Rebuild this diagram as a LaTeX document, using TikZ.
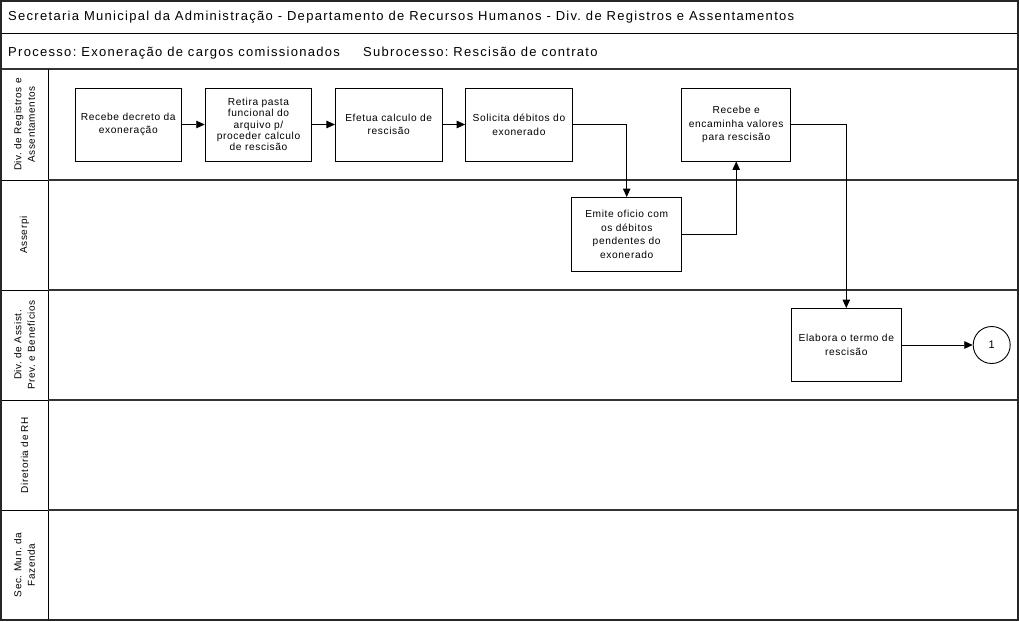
\documentclass[tikz,border=0pt]{standalone}
\usepackage{fontspec}
\setmainfont{Liberation Sans}
\newfontfamily\spacedfont[LetterSpace=6]{Liberation Sans}
\newfontfamily\headfont[LetterSpace=10]{Liberation Sans}
\usetikzlibrary{arrows.meta,shapes.geometric}
\begin{document}
\frenchspacing
\begin{tikzpicture}[x=1pt,y=-1pt,
  frame/.style={line width=1.3pt,draw=black!85},
  thin/.style={line width=0.9pt,draw=black},
  lanesep/.style={line width=1.6pt,draw=black!80},
  task/.style={draw=black,line width=0.9pt,fill=white,rectangle,
    minimum height=73pt,inner sep=1pt,align=center,
    font=\spacedfont\fontsize{10.2}{13.6}\selectfont},
  lanelabel/.style={rotate=90,align=center,inner sep=0pt,
    font=\spacedfont\fontsize{10}{13.5}\selectfont},
  head/.style={anchor=base west,inner sep=0pt,font=\headfont\fontsize{13}{15}\selectfont},
  flow/.style={line width=0.9pt,draw=black,-{Triangle[length=8.5pt,width=7.5pt]}},
  connector/.style={draw=black,line width=0.9pt,circle,minimum size=37pt,inner sep=0pt,
    font=\spacedfont\fontsize{11}{13}\selectfont}]
\useasboundingbox (0,0) rectangle (1019,621);

% header rows and outer frame
\fill[white] (0,0) rectangle (1019,621);
\draw[thin] (1,33) -- (1018,33);
\draw[lanesep] (1,69) -- (1018,69);
\draw[thin] (48,69) -- (48,620);
\foreach \yy in {180,290,400,510}{
  \draw[thin] (1,\yy) -- (48,\yy);
  \draw[lanesep] (48,\yy) -- (1018,\yy);
}
\draw[frame] (1,1) rectangle (1018,620);

\node[head] (title) at (8,20) {Secretaria Municipal da Administração - Departamento de Recursos Humanos - Div. de Registros e Assentamentos};
\node[head] (proc) at (8,56) {Processo: Exoneração de cargos comissionados};
\node[head] (subproc) at (363,56) {Subrocesso: Rescisão de contrato};

% lane titles
\node[lanelabel] (l1) at (24.5,124.5) {Div. de Registros e\\Assentamentos};
\node[lanelabel] (l2) at (24.5,235) {Asserpi};
\node[lanelabel] (l3) at (24.5,345) {Div. de Assist.\\Prev. e Benefícios};
\node[lanelabel] (l4) at (24.5,455) {Diretoria de RH};
\node[lanelabel] (l5) at (24.5,565) {Sec. Mun. da\\Fazenda};

% activities
\node[task,minimum width=106.6pt] (b1) at (128.3,124.5) {Recebe decreto da\\exoneração};
\node[task,minimum width=106.6pt,font=\spacedfont\fontsize{10.2}{11.4}\selectfont] (b2) at (258.5,124.5) {Retira pasta\\funcional do\\arquivo p/\\proceder calculo\\de rescisão};
\node[task,minimum width=106.6pt] (b3) at (388.7,124.5) {Efetua calculo de\\rescisão};
\node[task,minimum width=106.6pt] (b4) at (518.9,124.5) {Solicita débitos do\\exonerado};
\node[task,minimum width=110pt,minimum height=74pt] (emite) at (626.7,234.5) {Emite oficio com\\os débitos\\pendentes do\\exonerado};
\node[task,minimum width=109pt] (encam) at (736.2,124.5) {Recebe e\\encaminha valores\\para rescisão};
\node[task,minimum width=110.7pt] (elab) at (846.3,345) {Elabora o termo de\\rescisão};
\node[connector] (c1) at (991.7,345) {1};

% flow
\draw[flow] (b1) -- (b2);
\draw[flow] (b2) -- (b3);
\draw[flow] (b3) -- (b4);
\draw[flow] (b4.east) -| (emite.north);
\draw[flow] (emite.east) -| (encam.south);
\draw[flow] (encam.east) -| (elab.north);
\draw[flow] (elab.east) -- (c1.west);
\end{tikzpicture}
\end{document}
